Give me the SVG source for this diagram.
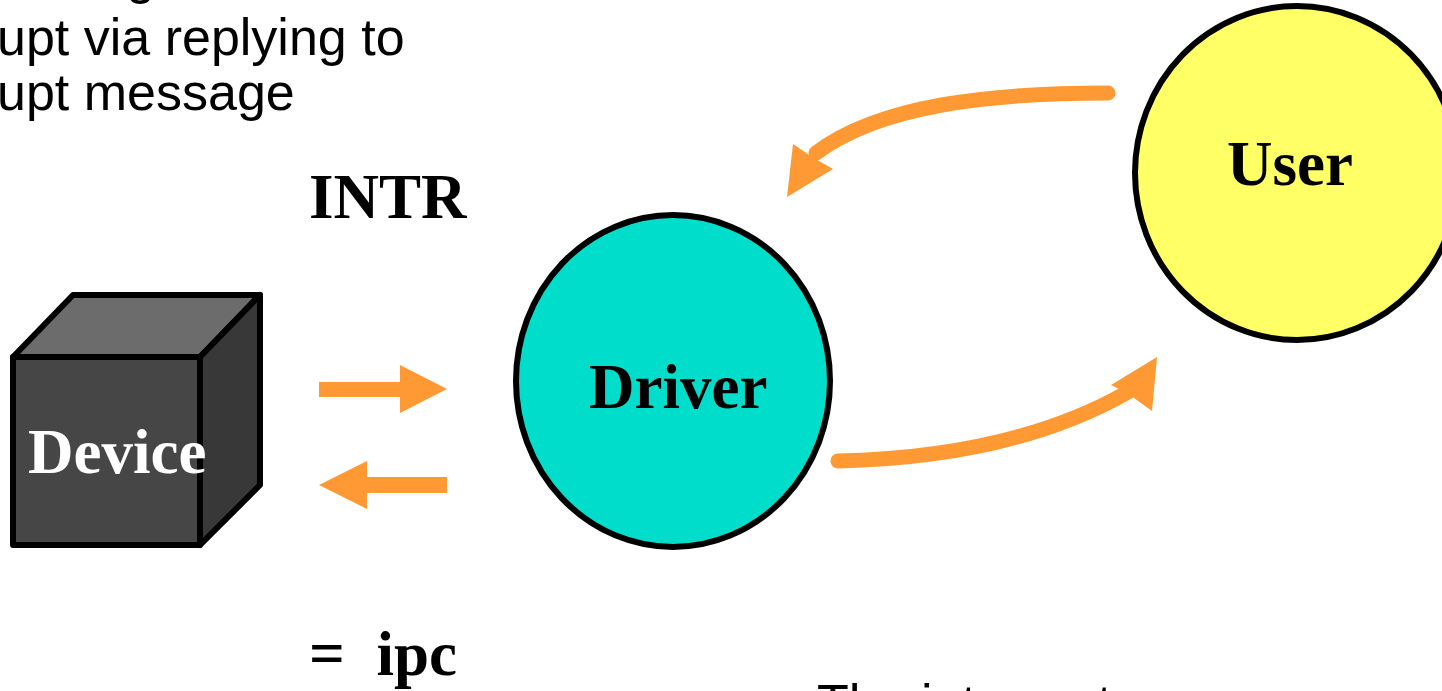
<svg xmlns="http://www.w3.org/2000/svg" width="1442" height="691" viewBox="0 0 1442 691">
  <style>
    .body { font-family: "Liberation Sans", Arial, sans-serif; font-size: 52px; fill: #000; }
    .label { font-family: "Liberation Serif", "Times New Roman", serif; font-weight: bold; font-size: 63px; fill: #000; }
    .outline { stroke: #000; stroke-width: 6; stroke-linejoin: round; }
    .flow { fill: none; stroke: #FF9933; stroke-width: 15; stroke-linecap: round; }
    .head { fill: #FF9933; stroke: none; }
  </style>

  <rect width="1442" height="691" fill="#FFFFFF"/>

  <!-- bullet text -->
  <g id="notes">
    <text class="body" x="126" y="-7">g</text>
    <text class="body" x="-3" y="55">upt via replying to</text>
    <text class="body" x="-3" y="110">upt message</text>
    <text class="body" x="817" y="721">The interrupt</text>
  </g>

  <!-- labels -->
  <g id="intr-label">
    <text class="label" x="309" y="218">INTR</text>
  </g>
  <g id="ipc-label">
    <text class="label" x="309" y="675" xml:space="preserve">=  ipc</text>
  </g>

  <!-- device box -->
  <g id="device">
    <polygon class="outline" points="13,357 73,295 260,295 200,357" fill="#6C6C6C"/>
    <polygon class="outline" points="200,357 260,295 260,485 200,545" fill="#383838"/>
    <rect class="outline" x="13" y="357" width="187" height="188" fill="#464646"/>
    <text class="label" x="28" y="473" style="fill:#FFFFFF">Device</text>
  </g>

  <!-- driver -->
  <g id="driver">
    <ellipse class="outline" cx="673" cy="381" rx="157" ry="166" fill="#00DECB"/>
    <text class="label" x="589" y="408">Driver</text>
  </g>

  <!-- user -->
  <g id="user">
    <ellipse class="outline" cx="1297" cy="173" rx="162" ry="167" fill="#FFFF66"/>
    <text class="label" x="1227" y="185">User</text>
  </g>

  <!-- connectors -->
  <g id="connectors">
    <!-- device to driver -->
    <polygon class="head" points="319,382 400,382 400,365 447,389 400,413 400,397 319,397"/>
    <!-- driver to device -->
    <polygon class="head" points="447,477 367,477 367,461 319,485 367,509 367,493 447,493"/>
    <!-- user to driver -->
    <path class="flow" d="M1108,93 C990,93 880,105 816,153"/>
    <polygon class="head" points="787,197 793,144 812,157 833,169"/>
    <!-- driver to user -->
    <path class="flow" d="M838,461 C980,458 1070,425 1128,392"/>
    <polygon class="head" points="1157,357 1111,385 1127,393 1152,411"/>
  </g>
</svg>
